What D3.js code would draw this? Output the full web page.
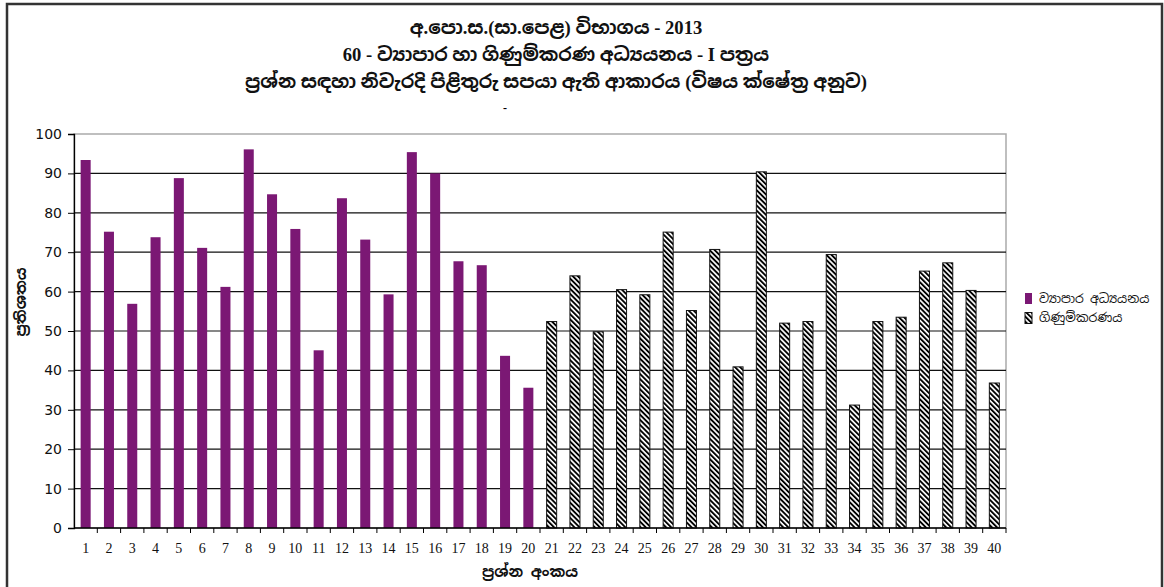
<!DOCTYPE html>
<html><head><meta charset="utf-8">
<script src="https://cdn.jsdelivr.net/npm/d3@7"></script>
<style>body{margin:0;background:#fff}</style>
</head><body>
<svg id="c" width="1164" height="587"></svg>
<script>
const categories = d3.range(1, 41).map(String);
const businessValues = [93.4,75.2,56.9,73.8,88.8,71.1,61.2,96.1,84.7,75.9,45.1,83.7,73.2,59.3,95.4,90.0,67.7,66.7,43.7,35.6];
const accountingValues = [52.4,64.0,49.8,60.5,59.2,75.1,55.2,70.7,40.9,90.4,52.0,52.4,69.4,31.2,52.4,53.5,65.2,67.3,60.3,36.8];
const yTicks = [0,10,20,30,40,50,60,70,80,90,100];
const seriesNames = ["ව්‍යාපාර අධ්‍යයනය", "ගිණුම්කරණය"];
const titleLines = ["අ.පො.ස.(සා.පෙළ) විභාගය - 2013", "60 - ව්‍යාපාර හා ගිණුම්කරණ අධ්‍යයනය  - I පත්‍රය", "ප්‍රශ්න සඳහා නිවැරදි පිළිතුරු සපයා ඇති ආකාරය (විෂය ක්ෂේත්‍ර අනුව)"];
const yTitle = "ප්‍රතිශතය";
const xTitle = "ප්‍රශ්න අංකය";

const data = categories.map((c, i) => i < 20
  ? {q: c, v: businessValues[i], s: 0}
  : {q: c, v: accountingValues[i - 20], s: 1});

const sinhala = "'Noto Sans Sinhala','Noto Serif Sinhala','Iskoola Pota','Noto Sans',sans-serif";
const titleFont = "'Liberation Serif','Noto Sans Sinhala','Noto Serif Sinhala',serif";
const svg = d3.select("#c");
const defs = svg.append("defs");
const pat = defs.append("pattern").attr("id","hatch").attr("patternUnits","userSpaceOnUse")
  .attr("width",3.6).attr("height",3.6).attr("patternTransform","rotate(-45)");
pat.append("rect").attr("width",3.6).attr("height",3.6).attr("fill","#fff");
pat.append("rect").attr("width",1.9).attr("height",3.6).attr("fill","#000");

// outer frame
svg.append("path").attr("d","M7,587 V4 H1162 V587").attr("fill","none").attr("stroke","#333").attr("stroke-width",2.5);

const L = 74, R = 1006, T = 134, B = 528;
const x = d3.scaleBand().domain(categories).range([L, R]).paddingInner(0.57).paddingOuter(0.285);
const xb = d3.scaleBand().domain(categories).range([L, R]);
const y = d3.scaleLinear().domain([0, 100]).range([B, T]);

// plot border
svg.append("rect").attr("x",L).attr("y",T).attr("width",R-L).attr("height",B-T)
  .attr("fill","none").attr("stroke","#aaa").attr("stroke-width",1.5);
// gridlines
svg.append("g").selectAll("line").data(yTicks.filter(t => t > 0 && t < 100)).join("line")
  .attr("x1",L).attr("x2",R).attr("y1",d=>y(d)).attr("y2",d=>y(d))
  .attr("stroke","#111").attr("stroke-width",1.2);

// bars
svg.append("g").selectAll("rect").data(data).join("rect")
  .attr("x", d => x(d.q)).attr("width", x.bandwidth())
  .attr("y", d => y(d.v)).attr("height", d => y(0) - y(d.v))
  .attr("fill", d => d.s === 0 ? "#7b1874" : "url(#hatch)")
  .attr("stroke", d => d.s === 0 ? "none" : "#111").attr("stroke-width", 1);

// y axis
const yAxis = svg.append("g").attr("transform",`translate(${L},0)`)
  .call(d3.axisLeft(y).tickValues(yTicks).tickSize(6).tickPadding(6));
yAxis.select(".domain").attr("stroke","#000").attr("stroke-width",1.3);
yAxis.selectAll(".tick line").attr("stroke","#000");
yAxis.selectAll("text").attr("font-family","'DejaVu Sans',sans-serif").attr("font-size",14).attr("fill","#111");

// x axis: ticks at band boundaries
svg.append("line").attr("x1",L).attr("x2",R).attr("y1",B).attr("y2",B).attr("stroke","#000").attr("stroke-width",1.3);
svg.append("g").selectAll("line").data(categories).join("line")
  .attr("x1", d => xb(d) + xb.bandwidth()).attr("x2", d => xb(d) + xb.bandwidth())
  .attr("y1", B).attr("y2", B + 5).attr("stroke","#000");
svg.append("g").selectAll("text").data(categories).join("text")
  .attr("x", d => xb(d) + xb.bandwidth()/2).attr("y", B + 25)
  .attr("text-anchor","middle").attr("font-family","'Liberation Serif',serif").attr("font-size",14).attr("fill","#111")
  .text(d => d);

// titles
svg.append("g").selectAll("text").data(titleLines).join("text")
  .attr("x", 556).attr("y", (d,i) => 34 + i*27).attr("text-anchor","middle")
  .attr("font-family", titleFont).attr("font-weight","bold").attr("font-size",18.6).attr("fill","#111")
  .text(d => d);
svg.append("text").attr("x",505).attr("y",112).attr("text-anchor","middle").attr("font-size",12).attr("font-weight","bold").text("-");

svg.append("text").attr("transform","translate(26,302) rotate(-90)").attr("text-anchor","middle")
  .attr("font-family", sinhala).attr("font-weight","bold").attr("font-size",15).attr("fill","#111").text(yTitle);
svg.append("text").attr("x",530).attr("y",577).attr("text-anchor","middle")
  .attr("font-family", sinhala).attr("font-weight","bold").attr("font-size",15).attr("fill","#111").text(xTitle);

// legend
const lg = svg.append("g").selectAll("g").data(seriesNames).join("g")
  .attr("transform",(d,i)=>`translate(1025,${293 + i*19.5})`);
lg.append("rect").attr("width",7).attr("height",11)
  .attr("fill",(d,i)=> i===0 ? "#7b1874" : "url(#hatch)").attr("stroke",(d,i)=> i===0?"none":"#111");
lg.append("text").attr("x",14).attr("y",9.5).attr("font-family",sinhala).attr("font-size",12.5).attr("fill","#111").text(d=>d);
</script>
</body></html>
